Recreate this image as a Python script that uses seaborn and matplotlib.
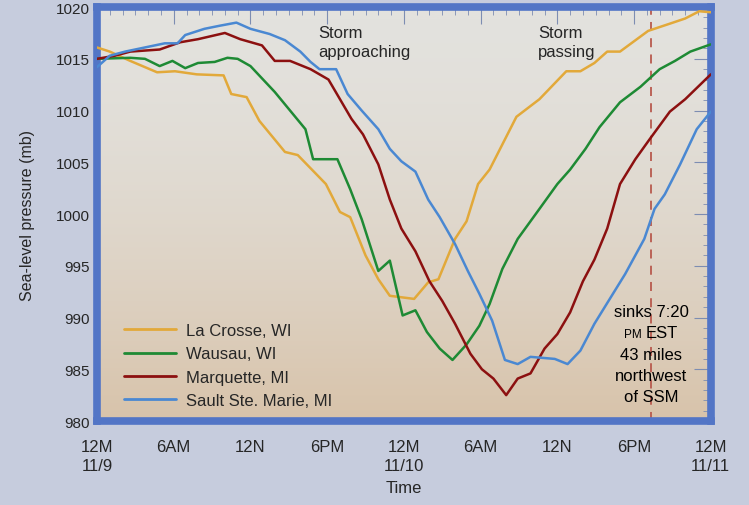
import numpy as np
import pandas as pd
import matplotlib.pyplot as plt
import seaborn as sns
from matplotlib.colors import LinearSegmentedColormap
from matplotlib.offsetbox import TextArea, HPacker, VPacker, AnnotationBbox

# hours since 12M 11/9, sea-level pressure (mb)
lacrosse_h = [0, 1, 2.6, 4.7, 6.1, 7.8, 9.9, 10.5, 11.7, 12.7, 14.7, 15.7, 17.9, 19, 19.8, 21, 22, 22.9,
              24.8, 25.9, 26.7, 28, 28.9, 29.8, 30.7, 32.8, 34.6, 36.7, 37.8, 38.9, 39.9, 40.9, 43.1,
              44.8, 46, 47.1, 48]
lacrosse_p = [1016.1, 1015.7, 1014.8, 1013.7, 1013.8, 1013.5, 1013.4, 1011.6, 1011.3, 1009.0, 1006.0,
              1005.7, 1002.9, 1000.2, 999.7, 996.0, 993.7, 992.1, 991.8, 993.4, 993.7, 997.6, 999.3,
              1002.9, 1004.3, 1009.4, 1011.1, 1013.8, 1013.8, 1014.6, 1015.7, 1015.7, 1017.7, 1018.4,
              1018.9, 1019.6, 1019.5]

wausau_h = [0, 2.6, 3.75, 4.9, 5.9, 6.9, 7.9, 9.2, 10.2, 11, 12, 13.9, 15.5, 16.3, 16.9, 18.8, 19.8,
            20.7, 22, 22.9, 23.9, 24.9, 25.8, 26.8, 27.8, 28.9, 29.9, 30.7, 31.7, 32.9, 34.6, 36, 37,
            38.2, 39.3, 40.9, 42.5, 44, 45.2, 46.4, 48]
wausau_p = [1015.0, 1015.1, 1015.0, 1014.3, 1014.8, 1014.1, 1014.6, 1014.7, 1015.1, 1015.0, 1014.3,
            1011.8, 1009.4, 1008.2, 1005.3, 1005.3, 1002.4, 999.5, 994.5, 995.5, 990.2, 990.7, 988.6,
            987.0, 985.9, 987.4, 989.2, 991.3, 994.7, 997.6, 1000.5, 1002.9, 1004.3, 1006.3, 1008.4,
            1010.8, 1012.3, 1014.0, 1014.8, 1015.7, 1016.4]

marquette_h = [0, 1.4, 2.6, 4.9, 6.5, 7.9, 10, 11.2, 12.9, 13.9, 15.1, 16.7, 18.1, 19, 19.9, 20.8, 22,
               22.9, 23.8, 24.9, 26, 27, 28, 29.2, 30.1, 31, 32, 32.9, 33.9, 35, 36, 37, 38, 38.9,
               39.9, 40.9, 42.1, 43.2, 44.8, 46, 48]
marquette_p = [1015.0, 1015.3, 1015.7, 1015.9, 1016.6, 1016.9, 1017.5, 1016.9, 1016.3, 1014.8, 1014.8,
               1014.0, 1013.0, 1011.1, 1009.2, 1007.7, 1004.8, 1001.4, 998.6, 996.4, 993.5, 991.6,
               989.4, 986.5, 985.0, 984.1, 982.5, 984.1, 984.6, 987.0, 988.4, 990.5, 993.5, 995.6,
               998.6, 1002.9, 1005.3, 1007.2, 1009.9, 1011.1, 1013.5]

ssm_h = [0, 1, 2.2, 3.75, 5.3, 6.3, 6.9, 8.4, 9.6, 10.9, 12, 13.5, 14.7, 15.9, 16.7, 17.4, 18.7, 19.6,
         20.7, 22, 22.9, 23.8, 24.9, 25.9, 26.8, 28, 29, 29.9, 30.9, 31.9, 32.9, 33.9, 35.8, 36.8,
         37.8, 38.9, 40.1, 41.3, 42.8, 43.6, 44.4, 45.6, 46.9, 48]
ssm_p = [1014.2, 1015.3, 1015.7, 1016.1, 1016.5, 1016.5, 1017.3, 1017.9, 1018.2, 1018.5, 1017.9,
         1017.4, 1016.8, 1015.7, 1014.7, 1014.0, 1014.0, 1011.6, 1010.0, 1008.2, 1006.3, 1005.1,
         1004.1, 1001.4, 999.7, 997.1, 994.5, 992.3, 989.7, 985.9, 985.5, 986.2, 986.0, 985.5, 986.8,
         989.4, 991.8, 994.2, 997.6, 1000.5, 1001.9, 1004.8, 1008.2, 1009.9]

stations = ["La Crosse, WI", "Wausau, WI", "Marquette, MI", "Sault Ste. Marie, MI"]
colors = ["#e2a93a", "#1e8a34", "#8c1010", "#4a88d2"]
tick_hours = [0, 6, 12, 18, 24, 30, 36, 42, 48]
tick_labels = ["12M\n11/9", "6AM", "12N", "6PM", "12M\n11/10", "6AM", "12N", "6PM", "12M\n11/11"]
sink_hour = 43 + 20 / 60

df = pd.concat([
    pd.DataFrame({"hour": h, "pressure": p, "station": s})
    for h, p, s in zip([lacrosse_h, wausau_h, marquette_h, ssm_h],
                       [lacrosse_p, wausau_p, marquette_p, ssm_p], stations)
])

sns.set_style("white")
plt.rcParams["font.family"] = ["Liberation Sans", "DejaVu Sans"]

bg = "#c6ccdd"
frame = "#5275c6"
tickc = "#7d8db2"

fig = plt.figure(figsize=(7.49, 5.06), dpi=100, facecolor=bg)
ax = fig.add_axes([0.1295, 0.166, 0.8195, 0.818])

# gradient background of the plot area
grad = np.linspace(0, 1, 256) ** 1.6
cmap = LinearSegmentedColormap.from_list("bgc", ["#e3e2de", "#d8c3aa"])
ax.imshow(grad[:, None], cmap=cmap, aspect="auto", extent=[0, 48, 980, 1020],
          origin="upper", zorder=0)

sns.lineplot(data=df, x="hour", y="pressure", hue="station", palette=colors,
             estimator=None, sort=False, linewidth=1.8, ax=ax, zorder=3)

ax.axvline(sink_hour, color="#b85a4e", linestyle=(0, (5, 4)), linewidth=1.3, zorder=2)

ax.set_xlim(0, 48)
ax.set_ylim(980, 1020)
ax.set_xticks(tick_hours)
ax.set_xticklabels(tick_labels, fontsize=12, linespacing=1.3)
ax.set_xticks(np.arange(0, 49, 1), minor=True)
ax.set_yticks(np.arange(980, 1021, 5))
ax.set_yticks(np.arange(980, 1021, 1), minor=True)
ax.tick_params(axis="y", labelsize=11, direction="in", which="major", length=12,
               width=1, color=tickc, pad=5)
ax.tick_params(axis="y", which="minor", direction="in", length=6, width=1, color=tickc)
ax.tick_params(axis="x", which="major", direction="out", length=9, width=1, color=tickc, pad=4)
ax.tick_params(axis="x", which="minor", direction="out", length=5, width=1, color=tickc)

top = ax.secondary_xaxis("top")
top.set_xticks(tick_hours)
top.set_xticks(np.arange(0, 49, 1), minor=True)
top.tick_params(which="major", direction="in", length=12, color=tickc, labeltop=False)
top.tick_params(which="minor", direction="in", length=6, color=tickc)
top.spines["top"].set_visible(False)
right = ax.secondary_yaxis("right")
right.set_yticks(np.arange(980, 1021, 5))
right.set_yticks(np.arange(980, 1021, 1), minor=True)
right.tick_params(which="major", direction="in", length=12, color=tickc, labelright=False)
right.tick_params(which="minor", direction="in", length=6, color=tickc)
right.spines["right"].set_visible(False)

for sp in ax.spines.values():
    sp.set_visible(True)
    sp.set_color(frame)
    sp.set_linewidth(5.5)

ax.set_xlabel("Time", fontsize=12, labelpad=5)
ax.set_ylabel("Sea-level pressure (mb)", fontsize=11.5, labelpad=15)

ax.text(17.3, 1018.3, "Storm\napproaching", fontsize=12, va="top", ha="left", linespacing=1.35)
ax.text(34.5, 1018.3, "Storm\npassing", fontsize=12, va="top", ha="left", linespacing=1.35)

# note by the dashed line, with small-caps style "PM"
big = dict(fontsize=12, color="black")
lines = [TextArea("sinks 7:20", textprops=big),
         HPacker(children=[TextArea("PM", textprops=dict(fontsize=8.5, color="black")),
                           TextArea("EST", textprops=big)], sep=3, align="baseline", pad=0),
         TextArea("43 miles", textprops=big),
         TextArea("northwest", textprops=big),
         TextArea("of SSM", textprops=big)]
note = VPacker(children=lines, sep=4.5, align="center", pad=0)
ab = AnnotationBbox(note, (sink_hour, 991.3), box_alignment=(0.5, 1), frameon=False, zorder=4)
ax.add_artist(ab)

leg = ax.legend(loc="lower left", bbox_to_anchor=(0.02, -0.005), frameon=False, fontsize=12,
                handlelength=3.1, handletextpad=0.6, labelspacing=0.5)
for line in leg.get_lines():
    line.set_linewidth(2)

fig.savefig("out.png", dpi=100, facecolor=bg)
